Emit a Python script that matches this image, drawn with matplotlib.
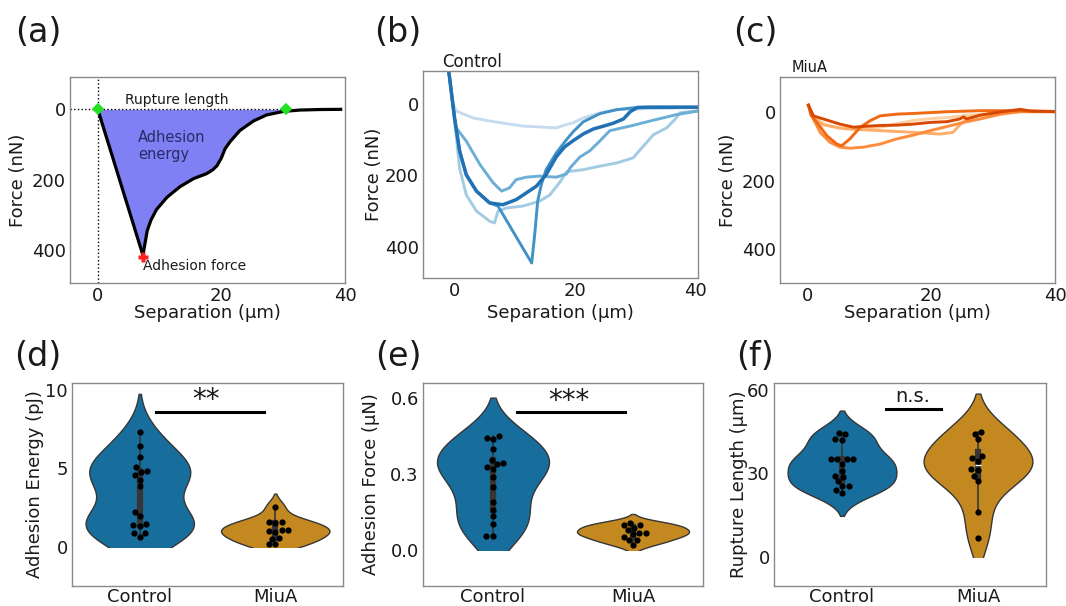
import matplotlib
matplotlib.use("Agg")
import matplotlib.pyplot as plt
from matplotlib.collections import PolyCollection
from matplotlib.patches import Rectangle
import numpy as np
import pandas as pd
import seaborn as sns

plt.rcParams['font.family'] = ['DejaVu Sans']
plt.rcParams['text.color'] = '#1a1a1a'
plt.rcParams['axes.labelcolor'] = '#1a1a1a'
plt.rcParams['xtick.color'] = '#1a1a1a'
plt.rcParams['ytick.color'] = '#1a1a1a'

# ---- (a) schematic retraction curve
schem_x = [0, 7.3, 7.6, 8.0, 8.6, 9.5, 11.2, 13.3, 15.5, 17.6, 18.6, 19.3, 20.0,
           20.6, 21.4, 23.0, 25.2, 27.3, 30.0, 32.7, 36.0, 39.3]
schem_y = [0, 415, 385, 345, 315, 285, 250, 220, 197, 183, 172, 160, 138,
           112, 92, 60, 33, 16, 6, 2, 0.5, 0]
rupture_pts = ([0, 30.5], [0, 0])
adhesion_pt = (7.3, 420)

# ---- (b) control curves (lightest first)
ctrl_curves = [
    ([-1.2, -0.9, -0.3, 0.22, 3.0, 5.8, 11.3, 16.9, 18.6, 19.7, 21.4, 24.2, 27.0, 40.5],
     [-110, -77, 0, 20, 39, 48, 62, 67, 58, 53, 39, 25, 16, 10]),
    ([-1.2, -0.9, -0.3, 0.22, 0.78, 1.9, 3.6, 5.8, 6.6, 7.2, 8.6, 11.3, 14.1, 15.8,
      17.5, 18.6, 21.4, 24.2, 27.0, 29.7, 31.4, 33.1, 35.3, 36.9, 37.5, 40.5],
     [-110, -77, 10, 86, 179, 254, 300, 328, 333, 300, 291, 286, 272, 255,
      219, 190, 184, 174, 165, 151, 118, 86, 67, 39, 25, 19]),
    ([-1.2, -0.9, -0.05, 0.22, 1.9, 4.2, 6.4, 7.8, 9.1, 10.2, 11.9, 14.1, 16.9, 18.6,
      19.2, 20.8, 22.5, 24.2, 25.8, 29.7, 32.5, 36.9, 40.5],
     [-110, -77, 39, 67, 104, 170, 221, 244, 235, 212, 205, 202, 205, 196,
      179, 149, 131, 103, 75, 60, 48, 30, 20]),
    ([-1.2, -0.9, -0.05, 0.8, 1.9, 3.6, 5.8, 7.2, 12.8, 13.3, 13.8, 14.4, 15.2, 16.9,
      18.6, 19.7, 21.4, 24.2, 27.0, 29.7, 32.5, 40.5],
     [-110, -77, 39, 132, 198, 244, 277, 286, 445, 366, 272, 226, 184, 137,
      100, 78, 50, 27, 16, 11, 10, 10]),
    ([-1.2, -0.9, -0.05, 0.8, 1.9, 3.6, 5.8, 8.0, 10.2, 11.9, 13.6, 15.2, 16.9, 18.3,
      19.7, 21.4, 23.1, 24.8, 26.4, 28.1, 29.2, 30.4, 32.5, 36.0, 40.5],
     [-110, -77, 39, 132, 198, 244, 277, 282, 268, 249, 230, 198, 148, 120,
      103, 84, 70, 62, 54, 42, 22, 10, 9, 9, 9]),
]
ctrl_colors = ['#c6dbef', '#a3cbe3', '#6baed6', '#4292c6', '#2171b5']

# ---- (c) MiuA curves (lightest first)
miua_curves = [
    ([0.1, 0.9, 2.5, 5.0, 8.0, 11.7, 14.4, 17.1, 20.0, 23.0, 26.0, 30.0, 34.0],
     [-19, 15, 35, 48, 50, 45, 35, 25, 20, 16, 10, 5, 2]),
    ([0.1, 0.9, 2.5, 4.6, 6.3, 11.7, 17.1, 21.4, 23.5, 24.5, 25.7, 28.0, 31.0],
     [-19, 18, 38, 45, 50, 55, 60, 65, 60, 40, 21, 10, 3]),
    ([0.1, 0.9, 2.0, 3.6, 5.2, 6.8, 9.0, 11.7, 14.4, 17.1, 19.8, 22.5, 25.2, 27.9, 31.0, 34.0, 40.0],
     [-19, 21, 60, 89, 103, 106, 103, 94, 79, 68, 55, 43, 31, 21, 8, 0, 0]),
    ([0.1, 0.5, 1.46, 3.1, 4.7, 5.5, 6.8, 8.5, 10.1, 11.7, 14.4, 17.1, 22.5, 27.9, 33.0, 40.0],
     [-19, 10, 31, 70, 94, 99, 79, 45, 26, 12, 7, 5, 0, -3, -3, -1]),
    ([0.1, 0.9, 2.5, 5.2, 7.4, 9.5, 11.7, 14.4, 17.1, 19.8, 22.5, 24.6, 25.2, 25.7,
      27.9, 30.0, 32.7, 34.4, 36.0, 40.0],
     [-19, 12, 21, 36, 45, 42, 40, 39, 36, 31, 29, 21, 15, 21,
      10, 4, -3, -7, -2, 0]),
]
miua_colors = ['#fdd0a2', '#fdae6b', '#fd8d3c', '#f16913', '#d94801']

# ---- (d)-(f) per-cell measurements
groups = ['Control', 'MiuA']
energy_ctrl = [7.3, 6.4, 5.75, 5.1, 4.85, 4.8, 4.55, 4.25, 3.85, 2.2, 1.95, 1.45, 1.4, 1.3, 0.9, 0.85, 0.65]
energy_miua = [2.55, 1.6, 1.6, 1.5, 1.05, 1.05, 1.0, 0.95, 0.55, 0.5, 0.15, 0.15]
force_ctrl = [0.45, 0.445, 0.44, 0.40, 0.355, 0.345, 0.34, 0.33, 0.32, 0.29, 0.25, 0.19, 0.16,
              0.135, 0.105, 0.057, 0.057]
force_miua = [0.11, 0.10, 0.10, 0.09, 0.08, 0.07, 0.07, 0.065, 0.055, 0.04, 0.04, 0.02]
rupture_ctrl = [44.5, 44.0, 42.3, 42.0, 35.3, 35.2, 35.0, 35.0, 33.5, 31.0, 29.0, 28.8, 27.2,
                25.5, 25.3, 24.0, 22.8]
rupture_miua = [45.0, 44.3, 42.3, 36.2, 35.6, 34.5, 31.5, 31.3, 29.0, 27.3, 16.0, 6.7]
violin_palette = ['#0173b2', '#de8f05']

W, H = 1066, 606
fig = plt.figure(figsize=(W / 100, H / 100), dpi=100)


def px_axes(left, top, right, bottom):
    return fig.add_axes([left / W, 1 - bottom / H, (right - left) / W, (bottom - top) / H])


def style(ax, pad=3):
    for sp in ax.spines.values():
        sp.set_color('#8a8a8a')
        sp.set_linewidth(1)
    ax.tick_params(length=0, labelsize=13, pad=pad)


# ----- panel (a)
ax = px_axes(70, 77, 345, 283)
ax.fill_between(schem_x, 0, schem_y, color='#8080f5', lw=0)
ax.plot(schem_x, schem_y, color='black', lw=2.3)
ax.axvline(0, color='black', ls=':', lw=1)
ax.plot([-4.5, 30.5], [0, 0], color='black', ls=':', lw=1)
ax.plot(*rupture_pts, 'D', color='#22e022', ms=5.5, mec='#22e022', mew=1.2)
ax.plot(*adhesion_pt, 'P', color='#ff2020', ms=7.5, mec='none')
ax.text(4.4, -26, 'Rupture length', fontsize=10, va='center')
ax.text(6.5, 104, 'Adhesion\nenergy', fontsize=10.5, va='center', color='#2a2a66')
ax.text(7.3, 447, 'Adhesion force', fontsize=10, va='center')
ax.set_xlim(-4.5, 40)
ax.set_ylim(494, -92)
ax.set_xticks([0, 20, 40])
ax.set_yticks([0, 200, 400])
ax.set_xlabel('Separation (µm)', fontsize=13)
ax.set_ylabel('Force (nN)', fontsize=13)
style(ax)
ax.xaxis.set_label_coords(0.5, -0.1)
ax.yaxis.set_label_coords(-0.158, 0.5)

# ----- panel (b)
ax = px_axes(423, 71, 698, 278)
for (cx, cy), col in zip(ctrl_curves, ctrl_colors):
    ax.plot(cx, cy, color=col, lw=2.5 if col == '#2171b5' else 2.1, solid_joinstyle='round')
ax.set_xlim(-5.3, 40.5)
ax.set_ylim(487, -92)
ax.set_xticks([0, 20, 40])
ax.set_yticks([0, 200, 400])
ax.set_xlabel('Separation (µm)', fontsize=13)
ax.set_ylabel('Force (nN)', fontsize=13)
ax.text(0.069, 1.043, 'Control', transform=ax.transAxes, fontsize=12, va='center')
style(ax)
ax.xaxis.set_label_coords(0.5, -0.126)
ax.yaxis.set_label_coords(-0.145, 0.5)

# ----- panel (c)
ax = px_axes(780, 77, 1055, 283)
for (cx, cy), col in zip(miua_curves, miua_colors):
    ax.plot(cx, cy, color=col, lw=2.1, solid_joinstyle='round')
ax.set_xlim(-4.5, 40)
ax.set_ylim(498, -101)
ax.set_xticks([0, 20, 40])
ax.set_yticks([0, 200, 400])
ax.set_xlabel('Separation (µm)', fontsize=13)
ax.set_ylabel('Force (nN)', fontsize=13)
ax.text(0.044, 1.044, 'MiuA', transform=ax.transAxes, fontsize=10.5, va='center')
style(ax)
ax.xaxis.set_label_coords(0.5, -0.1)
ax.yaxis.set_label_coords(-0.158, 0.5)


# ----- violin panels
def violin_panel(box, ctrl, miua, ylabel, ylim, yticks, bar, sig, sig_size, label_x):
    ax = px_axes(*box)
    df = pd.DataFrame({'group': [groups[0]] * len(ctrl) + [groups[1]] * len(miua),
                       'value': ctrl + miua})
    sns.violinplot(data=df, x='group', y='value', hue='group', palette=violin_palette,
                   cut=2, density_norm='width', inner='box', linewidth=1,
                   inner_kws=dict(box_width=4.5, whis_width=1.2),
                   legend=False, ax=ax)
    # bodies are cut off at zero
    for coll in ax.collections:
        if isinstance(coll, PolyCollection):
            coll.set_clip_path(Rectangle((-1, 0), 3, 1e4, transform=ax.transData))
    sns.swarmplot(data=df, x='group', y='value', color='black', size=4.5, ax=ax)
    x0, x1, yb, xs, ys = bar
    ax.plot([x0, x1], [yb, yb], color='black', lw=2.2)
    ax.text(xs, ys, sig, ha='center', va='center', fontsize=sig_size)
    ax.set_xlim(-0.5, 1.5)
    ax.set_ylim(*ylim)
    ax.set_yticks(yticks)
    ax.set_xlabel('')
    ax.set_ylabel(ylabel, fontsize=13)
    style(ax, pad=1.5)
    ax.tick_params(axis='y', pad=3)
    ax.yaxis.set_label_coords(label_x, 0.5)
    return ax


violin_panel((72, 383, 343, 586), energy_ctrl, energy_miua, 'Adhesion Energy (pJ)',
             (-2.5, 10.45), [0, 5, 10], (0.12, 0.915, 8.6, 0.49, 9.35), '**', 20, -0.105)
ax = violin_panel((423, 383, 703, 586), force_ctrl, force_miua, 'Adhesion Force (µN)',
                  (-0.14, 0.66), [0.0, 0.3, 0.6], (0.17, 0.94, 0.545, 0.54, 0.588), '***', 20, -0.155)
ax.set_yticklabels(['0.0', '0.3', '0.6'])
violin_panel((774, 383, 1046, 586), rupture_ctrl, rupture_miua, 'Rupture Length (µm)',
             (-10.5, 62.5), [0, 30, 60], (0.32, 0.73, 53, 0.52, 57.5), 'n.s.', 14, -0.097)

# panel letters
for lab, x, y in [('(a)', 38, 33), ('(b)', 398, 33), ('(c)', 755, 33),
                  ('(d)', 38, 357), ('(e)', 398, 357), ('(f)', 755, 357)]:
    fig.text(x / W, 1 - y / H, lab, fontsize=24, ha='center', va='center')

fig.savefig('out.png', dpi=100)
